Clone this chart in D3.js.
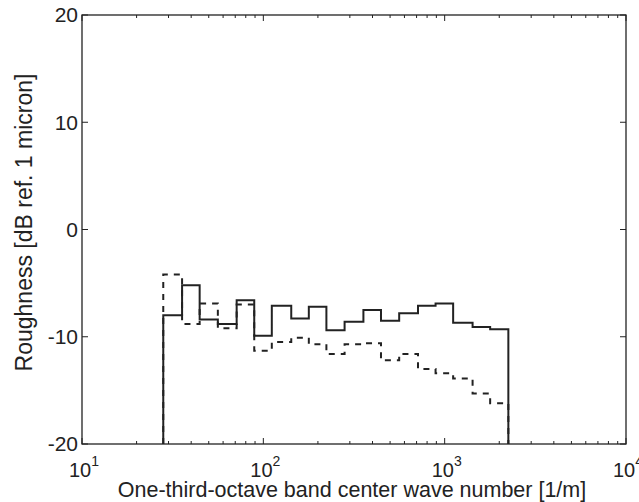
<!DOCTYPE html>
<html>
<head>
<meta charset="utf-8">
<script src="https://cdn.jsdelivr.net/npm/d3@7"></script>
<style>
    body { margin: 0; background: #fff; }
    svg { display: block; font-family: "Liberation Sans", Arial, sans-serif; }
</style>
</head>
<body>
<div id="chart"></div>
<script>

// one-third-octave band centres [1/m]
let bandCenters = [31.5, 40, 50, 63, 80, 100, 125, 160, 200, 250, 315, 400, 500, 630, 800, 1000, 1250, 1600, 2000];

// roughness levels [dB ref. 1 micron]
let solidLevels = [-8.0, -5.2, -8.4, -8.8, -6.6, -9.9, -7.1, -8.3, -7.2, -9.4, -8.6, -7.5, -8.5, -7.8, -7.1, -6.9, -8.7, -9.1, -9.3];
let dashedLevels = [-4.2, -8.8, -6.9, -9.2, -7.0, -11.3, -10.5, -10.1, -10.7, -11.6, -10.7, -10.6, -12.2, -11.6, -13.0, -13.4, -13.9, -15.3, -16.2];

let xTickValues = [10, 100, 1000, 10000];
let yTickValues = [-20, -10, 0, 10, 20];

let width = 639, height = 502;
let margin = { top: 15, right: 13, bottom: 58, left: 82 };
let innerW = width - margin.left - margin.right;
let innerH = height - margin.top - margin.bottom;

let x = d3.scaleLog().domain([10, 10000]).range([0, innerW]);
let y = d3.scaleLinear().domain([-20, 20]).range([innerH, 0]);

let svg = d3.select("#chart").append("svg")
    .attr("width", width)
    .attr("height", height);

let g = svg.append("g").attr("transform", `translate(${margin.left},${margin.top})`);

// stair path: band edges at centre * 2^(+-1/6), closed down to the floor
function stairPoints(levels) {
    let lo = c => c / Math.pow(2, 1 / 6);
    let hi = c => c * Math.pow(2, 1 / 6);
    let pts = [[lo(bandCenters[0]), -20]];
    levels.forEach((v, i) => pts.push([lo(bandCenters[i]), v]));
    let last = bandCenters[bandCenters.length - 1];
    pts.push([hi(last), levels[levels.length - 1]]);
    pts.push([hi(last), -20]);
    return pts;
}

let line = d3.line()
    .x(d => x(d[0]))
    .y(d => y(d[1]))
    .curve(d3.curveStepAfter);

g.append("path")
    .attr("d", line(stairPoints(solidLevels)))
    .attr("fill", "none")
    .attr("stroke", "#222")
    .attr("stroke-width", 2);

g.append("path")
    .attr("d", line(stairPoints(dashedLevels)))
    .attr("fill", "none")
    .attr("stroke", "#222")
    .attr("stroke-width", 2)
    .attr("stroke-dasharray", "6,6");

// frame
g.append("rect")
    .attr("width", innerW)
    .attr("height", innerH)
    .attr("fill", "none")
    .attr("stroke", "#222")
    .attr("stroke-width", 1.3);

// inward ticks, bottom/top
let minorX = [];
for (let dec = 10; dec < 10000; dec *= 10) {
    for (let k = 2; k <= 9; k++) minorX.push(dec * k);
}
let tickG = g.append("g").attr("stroke", "#222").attr("stroke-width", 1);
minorX.forEach(v => {
    tickG.append("line").attr("x1", x(v)).attr("x2", x(v)).attr("y1", innerH).attr("y2", innerH - 3);
    tickG.append("line").attr("x1", x(v)).attr("x2", x(v)).attr("y1", 0).attr("y2", 3);
});
xTickValues.forEach(v => {
    tickG.append("line").attr("x1", x(v)).attr("x2", x(v)).attr("y1", innerH).attr("y2", innerH - 6);
    tickG.append("line").attr("x1", x(v)).attr("x2", x(v)).attr("y1", 0).attr("y2", 6);
});
yTickValues.forEach(v => {
    tickG.append("line").attr("x1", 0).attr("x2", 6).attr("y1", y(v)).attr("y2", y(v));
    tickG.append("line").attr("x1", innerW).attr("x2", innerW - 6).attr("y1", y(v)).attr("y2", y(v));
});

// tick labels
xTickValues.forEach(v => {
    let t = g.append("text")
        .attr("x", x(v) + 2)
        .attr("y", innerH + 33)
        .attr("text-anchor", "middle")
        .attr("font-size", 20)
        .attr("fill", "#222");
    t.append("tspan").text("10");
    t.append("tspan").attr("dy", -11).attr("font-size", 14).text(Math.round(Math.log10(v)));
});

yTickValues.forEach(v => {
    g.append("text")
        .attr("x", -4)
        .attr("y", y(v))
        .attr("dy", "0.35em")
        .attr("text-anchor", "end")
        .attr("font-size", 21)
        .attr("fill", "#222")
        .text(v);
});

// axis titles
g.append("text")
    .attr("x", innerW / 2 - 2)
    .attr("y", innerH + 53)
    .attr("text-anchor", "middle")
    .attr("font-size", 21.5)
    .attr("fill", "#222")
    .text("One-third-octave band center wave number [1/m]");

g.append("text")
    .attr("transform", `translate(-50,${innerH / 2 - 7}) rotate(-90)`)
    .attr("text-anchor", "middle")
    .attr("font-size", 23)
    .attr("fill", "#222")
    .text("Roughness [dB ref. 1 micron]");

</script>
</body>
</html>
